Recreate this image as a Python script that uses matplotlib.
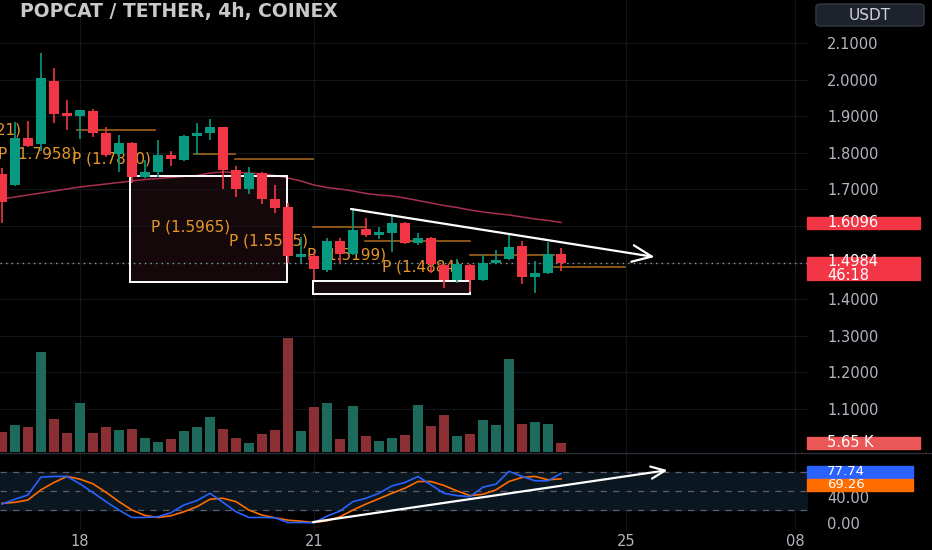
import matplotlib
matplotlib.use('Agg')
import matplotlib.pyplot as plt
import matplotlib.transforms as mtransforms
from matplotlib.patches import Rectangle, FancyBboxPatch
from matplotlib.lines import Line2D

# POPCAT / USDT 4h candles (index 0 = leftmost visible candle)
opens = [1.7421, 1.7120, 1.8405, 1.8241, 1.9962, 1.9088, 1.9006, 1.9142, 1.8541, 1.7967,
         1.8268, 1.7339, 1.7476, 1.7940, 1.7803, 1.8459, 1.8541, 1.8705, 1.7530, 1.7011,
         1.7448, 1.6738, 1.6519, 1.5153, 1.5180, 1.4798, 1.5590, 1.5235, 1.5918, 1.5754,
         1.5809, 1.6082, 1.5536, 1.5672, 1.4935, 1.4525, 1.4935, 1.4525, 1.4989, 1.5098,
         1.5454, 1.4607, 1.4716, 1.5235]
highs = [1.7585, 1.8842, 1.8869, 2.0727, 2.0317, 1.9443, 1.9170, 1.9197, 1.8705, 1.8486,
         1.8295, 1.7803, 1.8350, 1.8049, 1.8486, 1.8814, 1.8924, 1.8705, 1.7639, 1.7612,
         1.7476, 1.7120, 1.6629, 1.5700, 1.5290, 1.5672, 1.5672, 1.6465, 1.6219, 1.5973,
         1.6301, 1.6109, 1.5809, 1.5700, 1.4962, 1.5098, 1.4962, 1.5208, 1.5344, 1.5809,
         1.5590, 1.5044, 1.5563, 1.5399]
lows = [1.6082, 1.7093, 1.8159, 1.8049, 1.8814, 1.8623, 1.8377, 1.8432, 1.7885, 1.7476,
        1.7175, 1.7312, 1.7339, 1.7639, 1.7776, 1.7940, 1.8350, 1.7011, 1.6792, 1.6874,
        1.6601, 1.6355, 1.4989, 1.4989, 1.4525, 1.4743, 1.4989, 1.5208, 1.5700, 1.5645,
        1.5290, 1.5508, 1.5481, 1.4716, 1.4306, 1.4443, 1.4197, 1.4497, 1.4962, 1.5071,
        1.4415, 1.4170, 1.4689, 1.4771]
closes = [1.6656, 1.8405, 1.8186, 2.0044, 1.9060, 1.9006, 1.9170, 1.8541, 1.7940, 1.8268,
          1.7339, 1.7476, 1.7940, 1.7831, 1.8459, 1.8541, 1.8705, 1.7530, 1.7011, 1.7448,
          1.6738, 1.6492, 1.5180, 1.5235, 1.4825, 1.5590, 1.5235, 1.5891, 1.5754, 1.5836,
          1.6082, 1.5536, 1.5672, 1.4962, 1.4525, 1.4962, 1.4525, 1.4989, 1.5071, 1.5426,
          1.4607, 1.4716, 1.5235, 1.4984]
volumes = [13.1, 18.3, 16.7, 67.3, 21.9, 12.7, 32.8, 12.9, 16.7, 14.7,
           15.6, 9.5, 6.3, 8.4, 14.2, 17.0, 23.5, 15.4, 9.0, 5.7,
           12.0, 14.7, 76.8, 13.8, 30.1, 33.2, 8.6, 30.7, 10.4, 7.2,
           9.0, 11.1, 31.4, 17.2, 24.9, 10.6, 12.0, 21.5, 18.3, 62.6,
           19.0, 20.1, 18.5, 5.65]  # thousands
ma_line = [1.6738, 1.6792, 1.6847, 1.6902, 1.6956, 1.7011, 1.7066, 1.7107, 1.7148, 1.7189,
           1.7230, 1.7271, 1.7298, 1.7325, 1.7353, 1.7380, 1.7448, 1.7476, 1.7462, 1.7448,
           1.7421, 1.7380, 1.7312, 1.7230, 1.7120, 1.7052, 1.7011, 1.6956, 1.6888, 1.6847,
           1.6820, 1.6765, 1.6697, 1.6629, 1.6560, 1.6506, 1.6437, 1.6383, 1.6342, 1.6301,
           1.6246, 1.6192, 1.6151, 1.6096]
stoch_k = [29.5, 37.0, 43.9, 72.0, 73.1, 73.1, 61.4, 47.6, 33.3, 20.0,
           8.3, 8.3, 9.4, 15.7, 28.0, 34.9, 46.5, 32.2, 17.3, 8.3,
           8.3, 7.8, 0.3, 0.3, 0.0, 10.4, 18.4, 33.3, 38.6, 46.5,
           58.2, 63.5, 73.1, 59.8, 46.5, 42.8, 41.2, 56.1, 60.9, 81.1,
           73.1, 66.2, 66.2, 77.74]
stoch_d = [30.6, 32.2, 35.9, 51.9, 63.5, 73.1, 68.8, 61.4, 48.1, 33.3,
           20.0, 11.5, 8.3, 11.0, 17.3, 25.3, 37.0, 38.6, 33.3, 20.0,
           12.0, 7.8, 4.0, 2.4, 0.3, 3.0, 9.4, 20.0, 29.5, 38.0,
           46.5, 54.5, 65.1, 65.1, 58.8, 50.3, 42.8, 45.0, 51.9, 65.1,
           71.5, 73.1, 67.8, 69.26]

date_ticks = [6, 24, 48, 61]
date_labels = ['18', '21', '25', '08']
price_ticks = [1.1, 1.2, 1.3, 1.4, 1.5, 1.6, 1.7, 1.8, 1.9, 2.0, 2.1]
price_labels = ['1.1000', '1.2000', '1.3000', '1.4000', '', '', '1.7000', '1.8000',
                '1.9000', '2.0000', '2.1000']
stoch_ticks = [0, 40, 80]
stoch_labels = ['0.00', '40.00', '']

# pivot levels drawn on the chart
pivot_levels = [1.8621, 1.7958, 1.7820, 1.5965, 1.5595, 1.5199, 1.4884]
pivot_start = [5.8, 14.8, 17.9, 23.9, 27.9, 36.0, 42.5]
pivot_end = [11.8, 17.9, 23.9, 27.9, 36.0, 42.5, 47.9]
pivot_text_x = [1.5, -0.3, 5.4, 11.5, 17.5, 23.5, 29.2]

# white boxes (x0, x1, y0, y1)
boxes = [(9.85, 21.93, 1.4470, 1.7366), (23.93, 36.0, 1.4142, 1.4497)]
# trendlines (start, end)
price_trend = [(26.85, 1.6465), (50.2, 1.5153)]
stoch_trend = [(23.93, 1.0), (51.2, 83.0)]

green, red = '#089981', '#f23645'
vol_green, vol_red = '#1d6a5c', '#8a2f33'
grid_c = '#121519'
txt_c = '#b2b5be'

W, H = 932, 550
fig = plt.figure(figsize=(W / 100, H / 100), dpi=100, facecolor='black')
ax = fig.add_axes([0, 1 - 453 / H, 808 / W, 453 / H])
ax_s = fig.add_axes([0, (H - 530) / H, 808 / W, 77 / H], sharex=ax)
ax_v = ax.twinx()
for a in (ax, ax_s, ax_v):
    a.set_facecolor('black')
    for s in a.spines.values():
        s.set_visible(False)
ax_v.patch.set_visible(False)

ax.set_xlim(-0.15, 62.0)
ax.set_ylim(0.9798, 2.2175)
idx = list(range(len(opens)))

# grid / ticks
ax.set_xticks(date_ticks)
ax.tick_params(axis='x', length=0, labelbottom=False)
ax.yaxis.tick_right()
ax.set_yticks(price_ticks, price_labels)
ax.tick_params(axis='y', length=0, pad=13.7, labelsize=10.5, labelcolor=txt_c,
               labelleft=False, labelright=True)
ax.grid(True, color=grid_c, lw=0.8, zorder=0)

# boxes
for x0, x1, y0, y1 in boxes:
    ax.add_patch(Rectangle((x0, y0), x1 - x0, y1 - y0, facecolor='#14080a',
                           edgecolor='none', zorder=1))
    ax.add_patch(Rectangle((x0, y0), x1 - x0, y1 - y0, facecolor='none',
                           edgecolor='white', lw=1.4, zorder=3.5))

# pivot lines and labels
for lvl, x0, x1, tx in zip(pivot_levels, pivot_start, pivot_end, pivot_text_x):
    ax.plot([x0, x1], [lvl, lvl], color='#a0641e', lw=1.2, zorder=2)
    ha = 'right' if tx == pivot_text_x[0] else 'left'
    ax.text(tx, lvl, 'P (%.4f)' % lvl, color='#e69628', fontsize=11, ha=ha,
            va='center', zorder=2.5, clip_on=True)

# current price line
ax.axhline(closes[-1], color='#9598a1', lw=1, ls=(0, (1, 3)), zorder=2)

# moving average
ax.plot(idx, ma_line, color='#a8304f', lw=1.1, zorder=3)

# candles
cols = [green if c >= o else red for o, c in zip(opens, closes)]
ax.vlines(idx, lows, highs, colors=cols, lw=1.2, zorder=4)
body_lo = [min(o, c) for o, c in zip(opens, closes)]
body_h = [max(abs(c - o), 0.004) for o, c in zip(opens, closes)]
ax.bar(idx, body_h, bottom=body_lo, width=0.82, color=cols, zorder=4.1)

# trendline with arrow
ax.annotate('', xy=price_trend[1], xytext=price_trend[0],
            arrowprops=dict(arrowstyle='->,head_length=0.7,head_width=0.3',
                            color='white', lw=1.6, mutation_scale=20,
                            shrinkA=0, shrinkB=0), zorder=5)

# volume overlay
ax_v.set_ylim(-0.9, 306)
ax_v.set_yticks([])
vcols = [vol_green if c >= o else vol_red for o, c in zip(opens, closes)]
ax_v.bar(idx, volumes, width=0.8, color=vcols, zorder=1)

# stochastic pane
ax_s.set_ylim(-11.5, 110.1)
ax_s.axhspan(20, 80, color='#0a1620', zorder=0)
for lvl in (80, 50, 20):
    ax_s.axhline(lvl, color='#5d606b', lw=0.9, ls=(0, (5, 5)), zorder=1)
ax_s.plot(idx, stoch_d, color='#ff6d00', lw=1.2, zorder=3)
ax_s.plot(idx, stoch_k, color='#2962ff', lw=1.2, zorder=3)
ax_s.annotate('', xy=stoch_trend[1], xytext=stoch_trend[0],
              arrowprops=dict(arrowstyle='->,head_length=0.5,head_width=0.22',
                              color='white', lw=1.6, mutation_scale=20,
                              shrinkA=0, shrinkB=0), zorder=5)
ax_s.set_xticks(date_ticks, date_labels)
ax_s.tick_params(axis='x', length=0, pad=3, labelsize=10.5, labelcolor=txt_c)
ax_s.grid(True, axis='x', color=grid_c, lw=0.8, zorder=0)
ax_s.yaxis.tick_right()
ax_s.set_yticks(stoch_ticks, stoch_labels)
ax_s.tick_params(axis='y', length=0, pad=13.7, labelsize=10.5, labelcolor=txt_c)


def tag(axis, y0, y1, ytext, text, color, right=920, size=10.5):
    tr = mtransforms.blended_transform_factory(axis.transAxes, axis.transData)
    axis.add_patch(Rectangle((807 / 808, y0), (right - 807) / 808, y1 - y0,
                             transform=tr, color=color, clip_on=False, zorder=10))
    axis.text(827 / 808, ytext, text, transform=tr, color='white', fontsize=size,
              ha='left', va='center', linespacing=0.95, clip_on=False, zorder=11)


tag(ax, 1.5918, 1.6246, ma_line[-1], '%.4f' % ma_line[-1], red)
tag(ax, 1.4525, 1.5153, 1.4839, '%.4f\n46:18' % closes[-1], red)
tag(ax_v, 1.8, 10.0, 5.9, '%.2f K' % volumes[-1], '#eb5757')
tag(ax_s, 70.6, 89.6, 80.1, '%.2f' % stoch_k[-1], '#2962ff', right=913, size=9.5)
tag(ax_s, 50.1, 69.0, 59.6, '%.2f' % stoch_d[-1], '#ff6d00', right=913, size=9.5)

# pane separator
fig.add_artist(Line2D([0, 1], [1 - 453 / H, 1 - 453 / H], color='#2a2e39', lw=1))

# header
fig.text(20 / W, 1 - 12 / H, 'POPCAT / TETHER, 4h, COINEX', color='#c9c9c9',
         fontsize=13.5, fontweight='bold', va='center', ha='left')
fig.add_artist(FancyBboxPatch((816 / W, 1 - 26 / H), 108 / W, 22 / H,
                              boxstyle='round,pad=0,rounding_size=0.005',
                              facecolor='#1e222d', edgecolor='#363a45', lw=1,
                              transform=fig.transFigure))
fig.text(870 / W, 1 - 15 / H, 'USDT', color='#d1d4dc', fontsize=11,
         ha='center', va='center')

fig.savefig('out.png', dpi=100, facecolor='black')
